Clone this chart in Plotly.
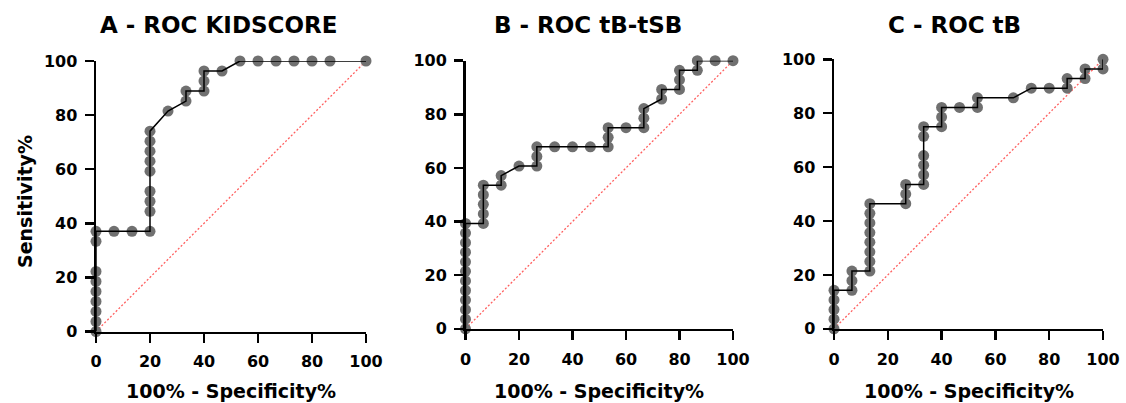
import plotly.graph_objects as go

# ---------------- data ----------------
titles = ["A - ROC KIDSCORE", "B - ROC tB-tSB", "C - ROC tB"]
x_title = "100% - Specificity%"
y_title = "Sensitivity%"
tick_vals = [0, 20, 40, 60, 80, 100]
tick_text = ["0", "20", "40", "60", "80", "100"]

A_x = [0, 0, 0, 0, 0, 0, 0, 0, 0,
       6.67, 13.33, 20,
       20, 20, 20, 20, 20, 20, 20, 20,
       26.67, 33.33, 33.33, 40, 40, 40, 46.67, 53.33,
       60, 66.67, 73.33, 80, 86.67, 100]
A_y = [0, 3.7, 7.41, 11.11, 14.81, 18.52, 22.22, 33.33, 37.04,
       37.04, 37.04, 37.04,
       44.44, 48.15, 51.85, 59.26, 62.96, 66.67, 70.37, 74.07,
       81.48, 85.19, 88.89, 88.89, 92.59, 96.3, 96.3, 100,
       100, 100, 100, 100, 100, 100]

B_x = [0, 0, 0, 0, 0, 0, 0, 0, 0, 0, 0, 0,
       6.67, 6.67, 6.67, 6.67, 6.67,
       13.33, 13.33, 20,
       26.67, 26.67, 26.67, 33.33, 40, 46.67,
       53.33, 53.33, 53.33, 60,
       66.67, 66.67, 66.67, 73.33, 73.33,
       80, 80, 80, 86.67, 86.67, 93.33, 100]
B_y = [0, 3.57, 7.14, 10.71, 14.29, 17.86, 21.43, 25, 28.57, 32.14, 35.71, 39.29,
       39.29, 42.86, 46.43, 50, 53.57,
       53.57, 57.14, 60.71,
       60.71, 64.29, 67.86, 67.86, 67.86, 67.86,
       67.86, 71.43, 75, 75,
       75, 78.57, 82.14, 85.71, 89.29,
       89.29, 92.86, 96.43, 96.43, 100, 100, 100]

C_x = [0, 0, 0, 0, 0,
       6.67, 6.67, 6.67,
       13.33, 13.33, 13.33, 13.33, 13.33, 13.33, 13.33, 13.33,
       26.67, 26.67, 26.67,
       33.33, 33.33, 33.33, 33.33, 33.33, 33.33,
       40, 40, 40, 46.67, 53.33, 53.33, 66.67, 73.33, 80,
       86.67, 86.67, 93.33, 93.33, 100, 100]
C_y = [0, 3.57, 7.14, 10.71, 14.29,
       14.29, 17.86, 21.43,
       21.43, 25, 28.57, 32.14, 35.71, 39.29, 42.86, 46.43,
       46.43, 50, 53.57,
       53.57, 57.14, 60.71, 64.29, 71.43, 75,
       75, 78.57, 82.14, 82.14, 82.14, 85.71, 85.71, 89.29, 89.29,
       89.29, 92.86, 92.86, 96.43, 96.43, 100]

ref_x = [0, 100]
ref_y = [0, 100]

# ---------------- layout geometry (pixels) ----------------
W, H = 1126, 403
panels = [  # left, right, top, bottom (plot area in px)
    (96, 366, 61, 331.5),
    (465.5, 733, 60.7, 328.8),
    (834, 1103, 59.3, 328.8),
]
title_cx = [218, 587.5, 954]

FONT = "DejaVu Sans"
series = [(A_x, A_y), (B_x, B_y), (C_x, C_y)]

fig = go.Figure()
layout = dict(
    width=W, height=H, margin=dict(l=0, r=0, t=0, b=0, autoexpand=False),
    paper_bgcolor="white", plot_bgcolor="white", showlegend=False,
    font=dict(family=FONT, color="black"),
)
annotations = []
for i, ((l, r, t, b), (xs, ys)) in enumerate(zip(panels, series)):
    n = "" if i == 0 else str(i + 1)
    xa, ya = "x" + n, "y" + n
    fig.add_trace(go.Scatter(x=ref_x, y=ref_y, mode="lines", xaxis=xa, yaxis=ya,
                             line=dict(color="rgb(255,95,95)", width=1.3, dash="2px,2px"),
                             hoverinfo="skip", cliponaxis=False))
    fig.add_trace(go.Scatter(x=xs, y=ys, mode="markers", xaxis=xa, yaxis=ya,
                             marker=dict(size=11, color="#707070", line=dict(width=0)),
                             cliponaxis=False))
    fig.add_trace(go.Scatter(x=xs, y=ys, mode="lines", xaxis=xa, yaxis=ya,
                             line=dict(color="black", width=1.5),
                             cliponaxis=False))
    axis_common = dict(
        range=[0, 100], showgrid=False, zeroline=False, showline=True,
        linecolor="black", linewidth=2.5, ticks="outside", ticklen=9,
        tickwidth=2.5, tickcolor="black", tickvals=tick_vals, ticktext=tick_text,
        tickfont=dict(family=FONT, size=16, color="black", weight="bold"),
        fixedrange=True, automargin=False,
    )
    layout["xaxis" + n] = dict(axis_common, domain=[l / W, r / W], anchor=ya,
                               ticklabelstandoff=5)
    layout["yaxis" + n] = dict(axis_common, domain=[1 - b / H, 1 - t / H], anchor=xa,
                               ticklabelstandoff=4)
    annotations.append(dict(text=titles[i], x=title_cx[i] / W, y=1 - 25 / H,
                            xref="paper", yref="paper", showarrow=False,
                            xanchor="center", yanchor="middle",
                            font=dict(family=FONT, size=23, color="black", weight="bold")))
    annotations.append(dict(text=x_title, x=((l + r) / 2) / W, y=1 - 391 / H,
                            xref="paper", yref="paper", showarrow=False,
                            xanchor="center", yanchor="middle",
                            font=dict(family=FONT, size=19, color="black", weight="bold")))

annotations.append(dict(text=y_title, x=25 / W, y=1 - 202 / H, xref="paper", yref="paper",
                        showarrow=False, textangle=-90, xanchor="center", yanchor="middle",
                        font=dict(family=FONT, size=19, color="black", weight="bold")))
layout["annotations"] = annotations
fig.update_layout(**layout)
fig.write_html("out.html", config={"displayModeBar": False, "staticPlot": True},
               post_script="document.body.style.margin='0';document.body.style.overflow='hidden';")
